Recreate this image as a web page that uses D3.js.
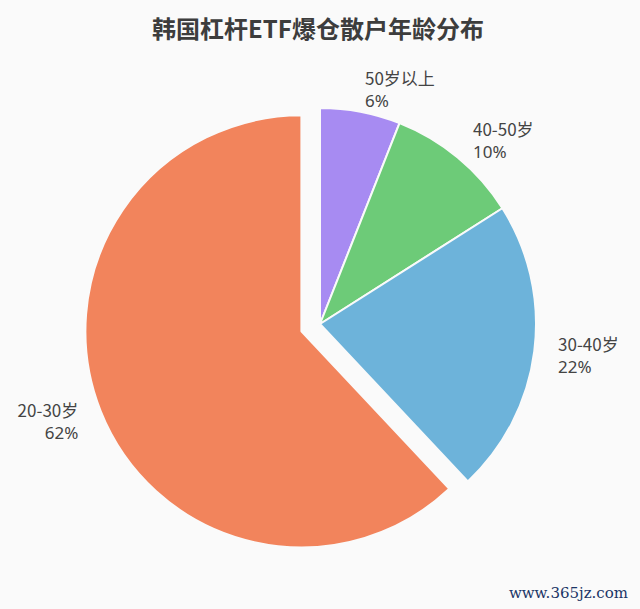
<!DOCTYPE html>
<html>
<head>
<meta charset="utf-8">
<script src="https://cdn.jsdelivr.net/npm/d3@7"></script>
<style>
  html, body { margin: 0; padding: 0; background: #fafafa; }
  #chart { width: 640px; height: 609px; }
</style>
</head>
<body>
<div id="chart"></div>
<script>
// data, clockwise from 12 o'clock
var categories = ['50岁以上', '40-50岁', '30-40岁', '20-30岁']
var values = [6, 10, 22, 62]
var colors = ['#a78bf2', '#6dcb78', '#6db3da', '#f2845c']
var exploded = '20-30岁'

var width = 640
var height = 609
var cx = 320
var cy = 324
var radius = 216
var labelRadius = 240
var explode = 20

var series = categories.map((name, i) => ({ name: name, value: values[i], color: colors[i] }))
var total = d3.sum(values)

var pie = d3.pie()
  .sort(null)
  .value(d => d.value)

var arc = d3.arc()
  .innerRadius(0)
  .outerRadius(radius)

var svg = d3.select('#chart')
  .append('svg')
  .attr('width', width)
  .attr('height', height)

svg.append('rect')
  .attr('width', width)
  .attr('height', height)
  .attr('fill', '#fafafa')

// 标题
svg.append('text')
  .text('韩国杠杆ETF爆仓散户年龄分布')
  .attr('x', 318)
  .attr('y', 38)
  .attr('text-anchor', 'middle')
  .attr('font-family', '"Noto Sans CJK SC", "Noto Sans", sans-serif')
  .attr('font-weight', 'bold')
  .attr('font-size', '24px')
  .attr('fill', '#3d3d3d')

var g = svg.append('g')
  .attr('transform', `translate(${cx}, ${cy})`)

var slices = g.selectAll('g.slice')
  .data(pie(series))
  .enter()
  .append('g')
  .attr('class', 'slice')
  .attr('transform', d => {
    if (d.data.name !== exploded) return null
    var mid = (d.startAngle + d.endAngle) / 2
    return `translate(${Math.sin(mid) * explode}, ${-Math.cos(mid) * explode})`
  })

slices.append('path')
  .attr('d', arc)
  .attr('fill', d => d.data.color)
  .attr('stroke', '#fafafa')
  .attr('stroke-width', 2)
  .attr('stroke-linejoin', 'round')

// 标签：两行，名称 + 百分比
function labelPos(d) {
  var mid = (d.startAngle + d.endAngle) / 2
  return [Math.sin(mid) * labelRadius, -Math.cos(mid) * labelRadius]
}
function labelAnchor(d) {
  var mid = (d.startAngle + d.endAngle) / 2
  return Math.sin(mid) >= 0 ? 'start' : 'end'
}

slices.append('text')
  .text(d => d.data.name)
  .attr('x', d => labelPos(d)[0])
  .attr('y', d => labelPos(d)[1] - 3)
  .attr('text-anchor', labelAnchor)
  .attr('font-family', '"Noto Sans CJK SC", "Noto Sans", sans-serif')
  .attr('font-size', '17px')
  .attr('fill', '#444')

slices.append('text')
  .text(d => Math.round(d.data.value / total * 100) + '%')
  .attr('x', d => labelPos(d)[0])
  .attr('y', d => labelPos(d)[1] + 19)
  .attr('text-anchor', labelAnchor)
  .attr('font-family', '"Noto Sans", sans-serif')
  .attr('font-size', '17px')
  .attr('fill', '#444')

// 水印
svg.append('text')
  .text('www.365jz.com')
  .attr('x', 628)
  .attr('y', 598)
  .attr('text-anchor', 'end')
  .attr('font-family', '"DejaVu Serif", "Liberation Serif", serif')
  .attr('font-size', '15px')
  .attr('fill', '#1a3566')
</script>
</body>
</html>
